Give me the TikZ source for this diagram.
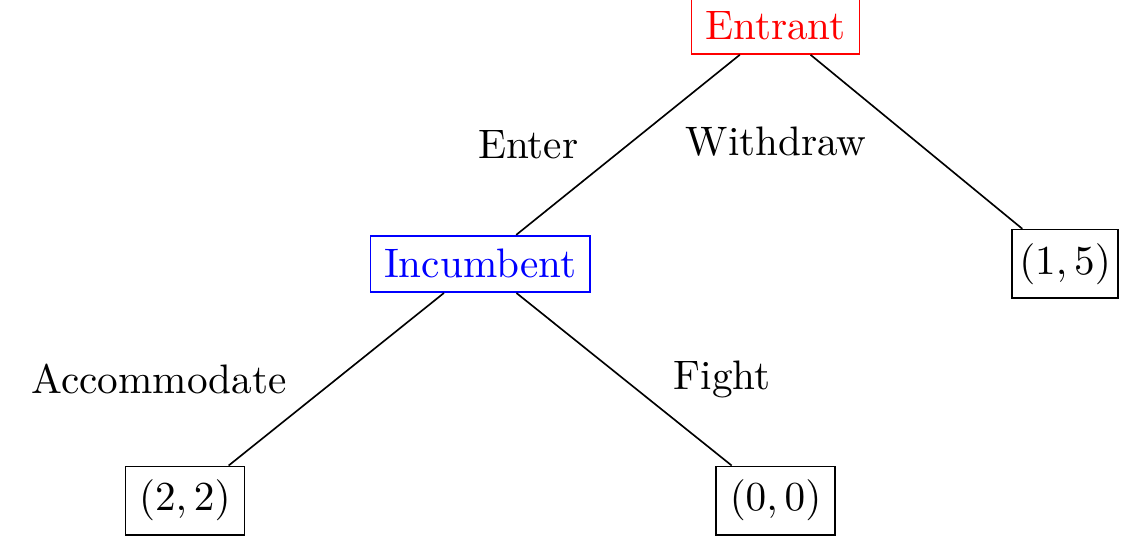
\documentclass[tikz,border=0pt]{standalone}
\usepackage{amsmath}
\usepackage{amssymb}
\usepackage{tikz}
\usetikzlibrary{positioning, calc}

\begin{document}
\begin{tikzpicture}[
	scatola/.style={draw, rectangle},
	ramo/.style={draw, black}
	]
	
	% Definizione dei colori
	\definecolor{rossogiocatore}{RGB}{255,0,0}
	\definecolor{blugiocatore}{RGB}{0,0,255}
	
	% Area del disegno
	\useasboundingbox (-6.617,-4.36) rectangle (3.033,0.222);
	
	% Nodi dei giocatori
	\node[scatola, draw=rossogiocatore, text=rossogiocatore] (entrant) at (0,0) {Entrant};
	\node[scatola, draw=blugiocatore, text=blugiocatore] (incumbent) at (-2.52,-2.03) {Incumbent};
	
	% Nodi finali (payoff)
	\node[scatola, inner xsep=1.8pt] (payA) at (2.47,-2.03) {$(1,5)$};
	\node[scatola] (payB) at (-5.04,-4.05) {$(2,2)$};
	\node[scatola] (payC) at (0,-4.05) {$(0,0)$};
	
	% Rami e azioni
	\draw[ramo] (entrant) -- (incumbent) node[midway, left=3mm] (enter) {Enter};
	\draw[ramo] (entrant) -- (payA) node[midway, left=3mm] (withdraw) {Withdraw};
	\draw[ramo] (incumbent) -- (payB) node[midway, left=3mm] (accommodate) {Accommodate};
	\draw[ramo] (incumbent) -- (payC) node[midway, right=3mm] (fight) {Fight};
	
\end{tikzpicture}
\end{document}
